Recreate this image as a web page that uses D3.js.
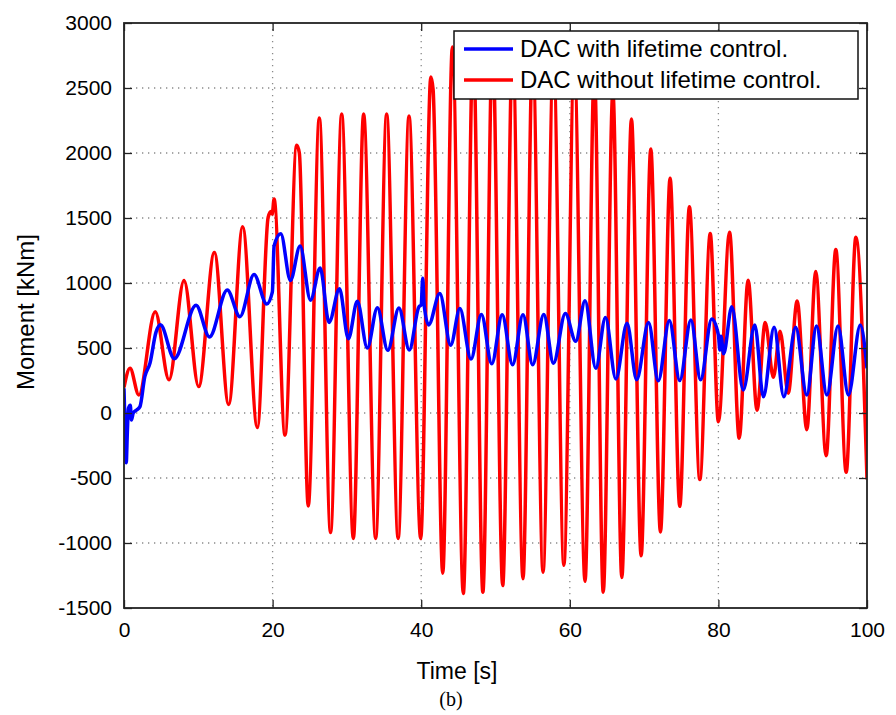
<!DOCTYPE html>
<html>
<head>
<meta charset="utf-8">
<script src="https://cdn.jsdelivr.net/npm/d3@7"></script>
<style>
body { margin: 0; background: #fff; }
</style>
</head>
<body>
<div id="draw-area"></div>
<script>
// series (time in s, moment in kNm), extrema and kinks
var blueTime = [0, 0.15, 0.3, 0.45, 0.6, 0.85, 1.0, 1.25, 1.7, 2.15, 2.8, 3.5, 4.3, 4.9, 6.77, 9.7, 11.5, 13.9, 15.6, 17.5, 19.2, 19.97, 20.2, 21.1, 22.4, 23.7, 25.1, 26.4, 27.6, 29.0, 30.2, 31.4, 32.75, 34.1, 35.5, 37.0, 38.4, 39.7, 40.0, 40.2, 40.4, 41.0, 42.5, 43.97, 45.2, 46.7, 48.1, 49.5, 50.9, 52.3, 53.7, 55.0, 56.5, 57.8, 59.4, 60.8, 62.05, 63.5, 64.8, 66.2, 67.7, 69.0, 70.6, 71.9, 73.4, 74.8, 76.3, 77.6, 79.1, 80.0, 80.2, 80.35, 80.7, 81.8, 83.35, 84.9, 86.05, 87.5, 88.8, 90.4, 91.9, 93.2, 94.6, 96.1, 97.5, 99.1, 100];
var blueMoment = [190, -150, -382, -150, 36, 60, -54, 0, 23, 49, 279, 384, 620, 678, 418, 829, 585, 947, 741, 1065, 838, 932, 1285, 1379, 1020, 1285, 868, 1115, 697, 956, 571, 859, 500, 810, 482, 807, 485, 818, 830, 1036, 830, 677, 919, 522, 803, 415, 758, 378, 755, 371, 755, 371, 758, 383, 766, 552, 863, 344, 735, 262, 690, 256, 696, 248, 711, 250, 716, 255, 723, 600, 485, 590, 455, 818, 177, 677, 125, 659, 125, 659, 138, 669, 138, 669, 138, 677, 344];

var redTime = [0, 0.81, 2.0, 4.2, 6.06, 8.08, 10.05, 12.16, 14.09, 15.97, 17.95, 19.4, 19.78, 19.95, 20.2, 21.67, 23.24, 23.6, 24.8, 26.29, 27.8, 29.3, 30.87, 32.25, 33.87, 35.35, 36.9, 38.36, 39.93, 41.3, 41.6, 42.9, 44.2, 45.67, 47.0, 48.3, 49.6, 50.97, 52.3, 53.7, 55.0, 56.4, 57.8, 59.2, 60.6, 62.05, 63.3, 64.5, 65.8, 67.0, 68.3, 69.6, 70.9, 72.2, 73.5, 74.8, 76.1, 77.5, 78.9, 80.0, 81.5, 82.8, 84.0, 85.2, 86.3, 87.4, 88.3, 89.4, 90.6, 91.9, 93.1, 94.5, 95.8, 97.2, 98.5, 100];
var redMoment = [197, 344, 138, 779, 256, 1020, 203, 1235, 65, 1432, -112, 1505, 1550, 1530, 1646, -170, 2059, 2000, -715, 2270, -920, 2300, -965, 2300, -965, 2300, -965, 2285, -965, 2585, 2490, -1232, 2815, -1388, 2850, -1378, 2850, -1327, 2820, -1275, 2780, -1225, 2740, -1172, 2700, -1295, 2640, -1378, 2470, -1265, 2262, -1098, 2030, -915, 1806, -718, 1586, -512, 1380, -67, 1390, -194, 1022, 22, 696, 275, 628, 152, 862, -128, 1088, -328, 1257, -455, 1352, -512];

var xTicks = [0, 20, 40, 60, 80, 100];
var yTicks = [-1500, -1000, -500, 0, 500, 1000, 1500, 2000, 2500, 3000];
var legendLabels = ["DAC with lifetime control.", "DAC without lifetime control."];
var seriesColors = ["#0000ff", "#ff0000"];

var svgw = 896, svgh = 715;
var margin = {top: 23, right: 29, bottom: 107, left: 124};
var width = svgw - margin.left - margin.right;
var height = svgh - margin.top - margin.bottom;
var font = "'Liberation Sans', Arial, Helvetica, sans-serif";

var svg = d3.select("#draw-area").append("svg")
	.attr("width", svgw)
	.attr("height", svgh)
	.style("font-family", font);

var x = d3.scaleLinear().domain([0, 100]).range([0, width]);
var y = d3.scaleLinear().domain([-1500, 3000]).range([height, 0]);

var g = svg.append("g")
	.attr("transform", "translate(" + margin.left + "," + margin.top + ")");

// dotted grid
g.append("g").selectAll("line.gx")
	.data(xTicks.slice(1, -1)).enter().append("line")
	.attr("x1", function(d){ return x(d); })
	.attr("x2", function(d){ return x(d); })
	.attr("y1", 0).attr("y2", height)
	.style("stroke", "#8a8a8a").style("stroke-width", 1.3)
	.style("stroke-dasharray", "1.3,4.7");
g.append("g").selectAll("line.gy")
	.data(yTicks.slice(1, -1)).enter().append("line")
	.attr("y1", function(d){ return y(d); })
	.attr("y2", function(d){ return y(d); })
	.attr("x1", 0).attr("x2", width)
	.style("stroke", "#8a8a8a").style("stroke-width", 1.3)
	.style("stroke-dasharray", "1.3,4.7");

svg.append("clipPath").attr("id", "plotclip")
	.append("rect").attr("width", width).attr("height", height);

var line = d3.line()
	.x(function(d){ return x(d.t); })
	.y(function(d){ return y(d.v); })
	.curve(d3.curveMonotoneX);

var blueData = blueTime.map(function(t, i){ return {t: t, v: blueMoment[i]}; });
var redData = redTime.map(function(t, i){ return {t: t, v: redMoment[i]}; });

var lines = g.append("g").attr("clip-path", "url(#plotclip)");
lines.append("path")
	.datum(redData)
	.attr("d", line)
	.style("fill", "none").style("stroke", seriesColors[1])
	.style("stroke-width", 3.5).style("stroke-linejoin", "round");
lines.append("path")
	.datum(blueData)
	.attr("d", line)
	.style("fill", "none").style("stroke", seriesColors[0])
	.style("stroke-width", 3.5).style("stroke-linejoin", "round");

// axes, ticks pointing inward on all four sides
function styleAxis(sel){
	sel.select(".domain").remove();
	sel.selectAll(".tick line").style("stroke", "#222").style("stroke-width", 1.3);
	sel.selectAll(".tick text").style("font-size", "21px").style("fill", "#000").style("font-family", font);
}
var plainFormat = function(d){ return String(d); };
g.append("g")
	.attr("transform", "translate(0," + height + ")")
	.call(d3.axisBottom(x).tickValues(xTicks).tickSize(-8).tickPadding(14).tickFormat(plainFormat))
	.call(styleAxis);
g.append("g")
	.call(d3.axisTop(x).tickValues(xTicks).tickSize(-8).tickFormat(""))
	.call(styleAxis);
g.append("g")
	.call(d3.axisLeft(y).tickValues(yTicks).tickSize(-8).tickPadding(12).tickFormat(plainFormat))
	.call(styleAxis);
g.append("g")
	.attr("transform", "translate(" + width + ",0)")
	.call(d3.axisRight(y).tickValues(yTicks).tickSize(-8).tickFormat(""))
	.call(styleAxis);

g.append("rect")
	.attr("width", width).attr("height", height)
	.style("fill", "none").style("stroke", "#222").style("stroke-width", 1.8);

// legend
var legend = g.append("g").attr("transform", "translate(" + (454 - margin.left) + "," + (31 - margin.top) + ")");
legend.append("rect")
	.attr("width", 404).attr("height", 68)
	.style("fill", "#fff").style("stroke", "#111").style("stroke-width", 1.5);
legendLabels.forEach(function(lbl, i){
	var ly = 18 + i * 31;
	legend.append("line")
		.attr("x1", 10).attr("x2", 59).attr("y1", ly).attr("y2", ly)
		.style("stroke", seriesColors[i]).style("stroke-width", 3.5);
	legend.append("text")
		.attr("x", 66).attr("y", ly + 8)
		.style("font-size", "24px").text(lbl);
});

svg.append("text")
	.attr("x", 457).attr("y", 679)
	.attr("text-anchor", "middle")
	.style("font-size", "23px").text("Time [s]");

svg.append("text")
	.attr("transform", "translate(34,312) rotate(-90)")
	.attr("text-anchor", "middle")
	.style("font-size", "24px").text("Moment [kNm]");

svg.append("text")
	.attr("x", 451).attr("y", 706)
	.attr("text-anchor", "middle")
	.style("font-family", "'Liberation Serif', 'Times New Roman', serif")
	.style("font-size", "20px").text("(b)");
</script>
</body>
</html>
